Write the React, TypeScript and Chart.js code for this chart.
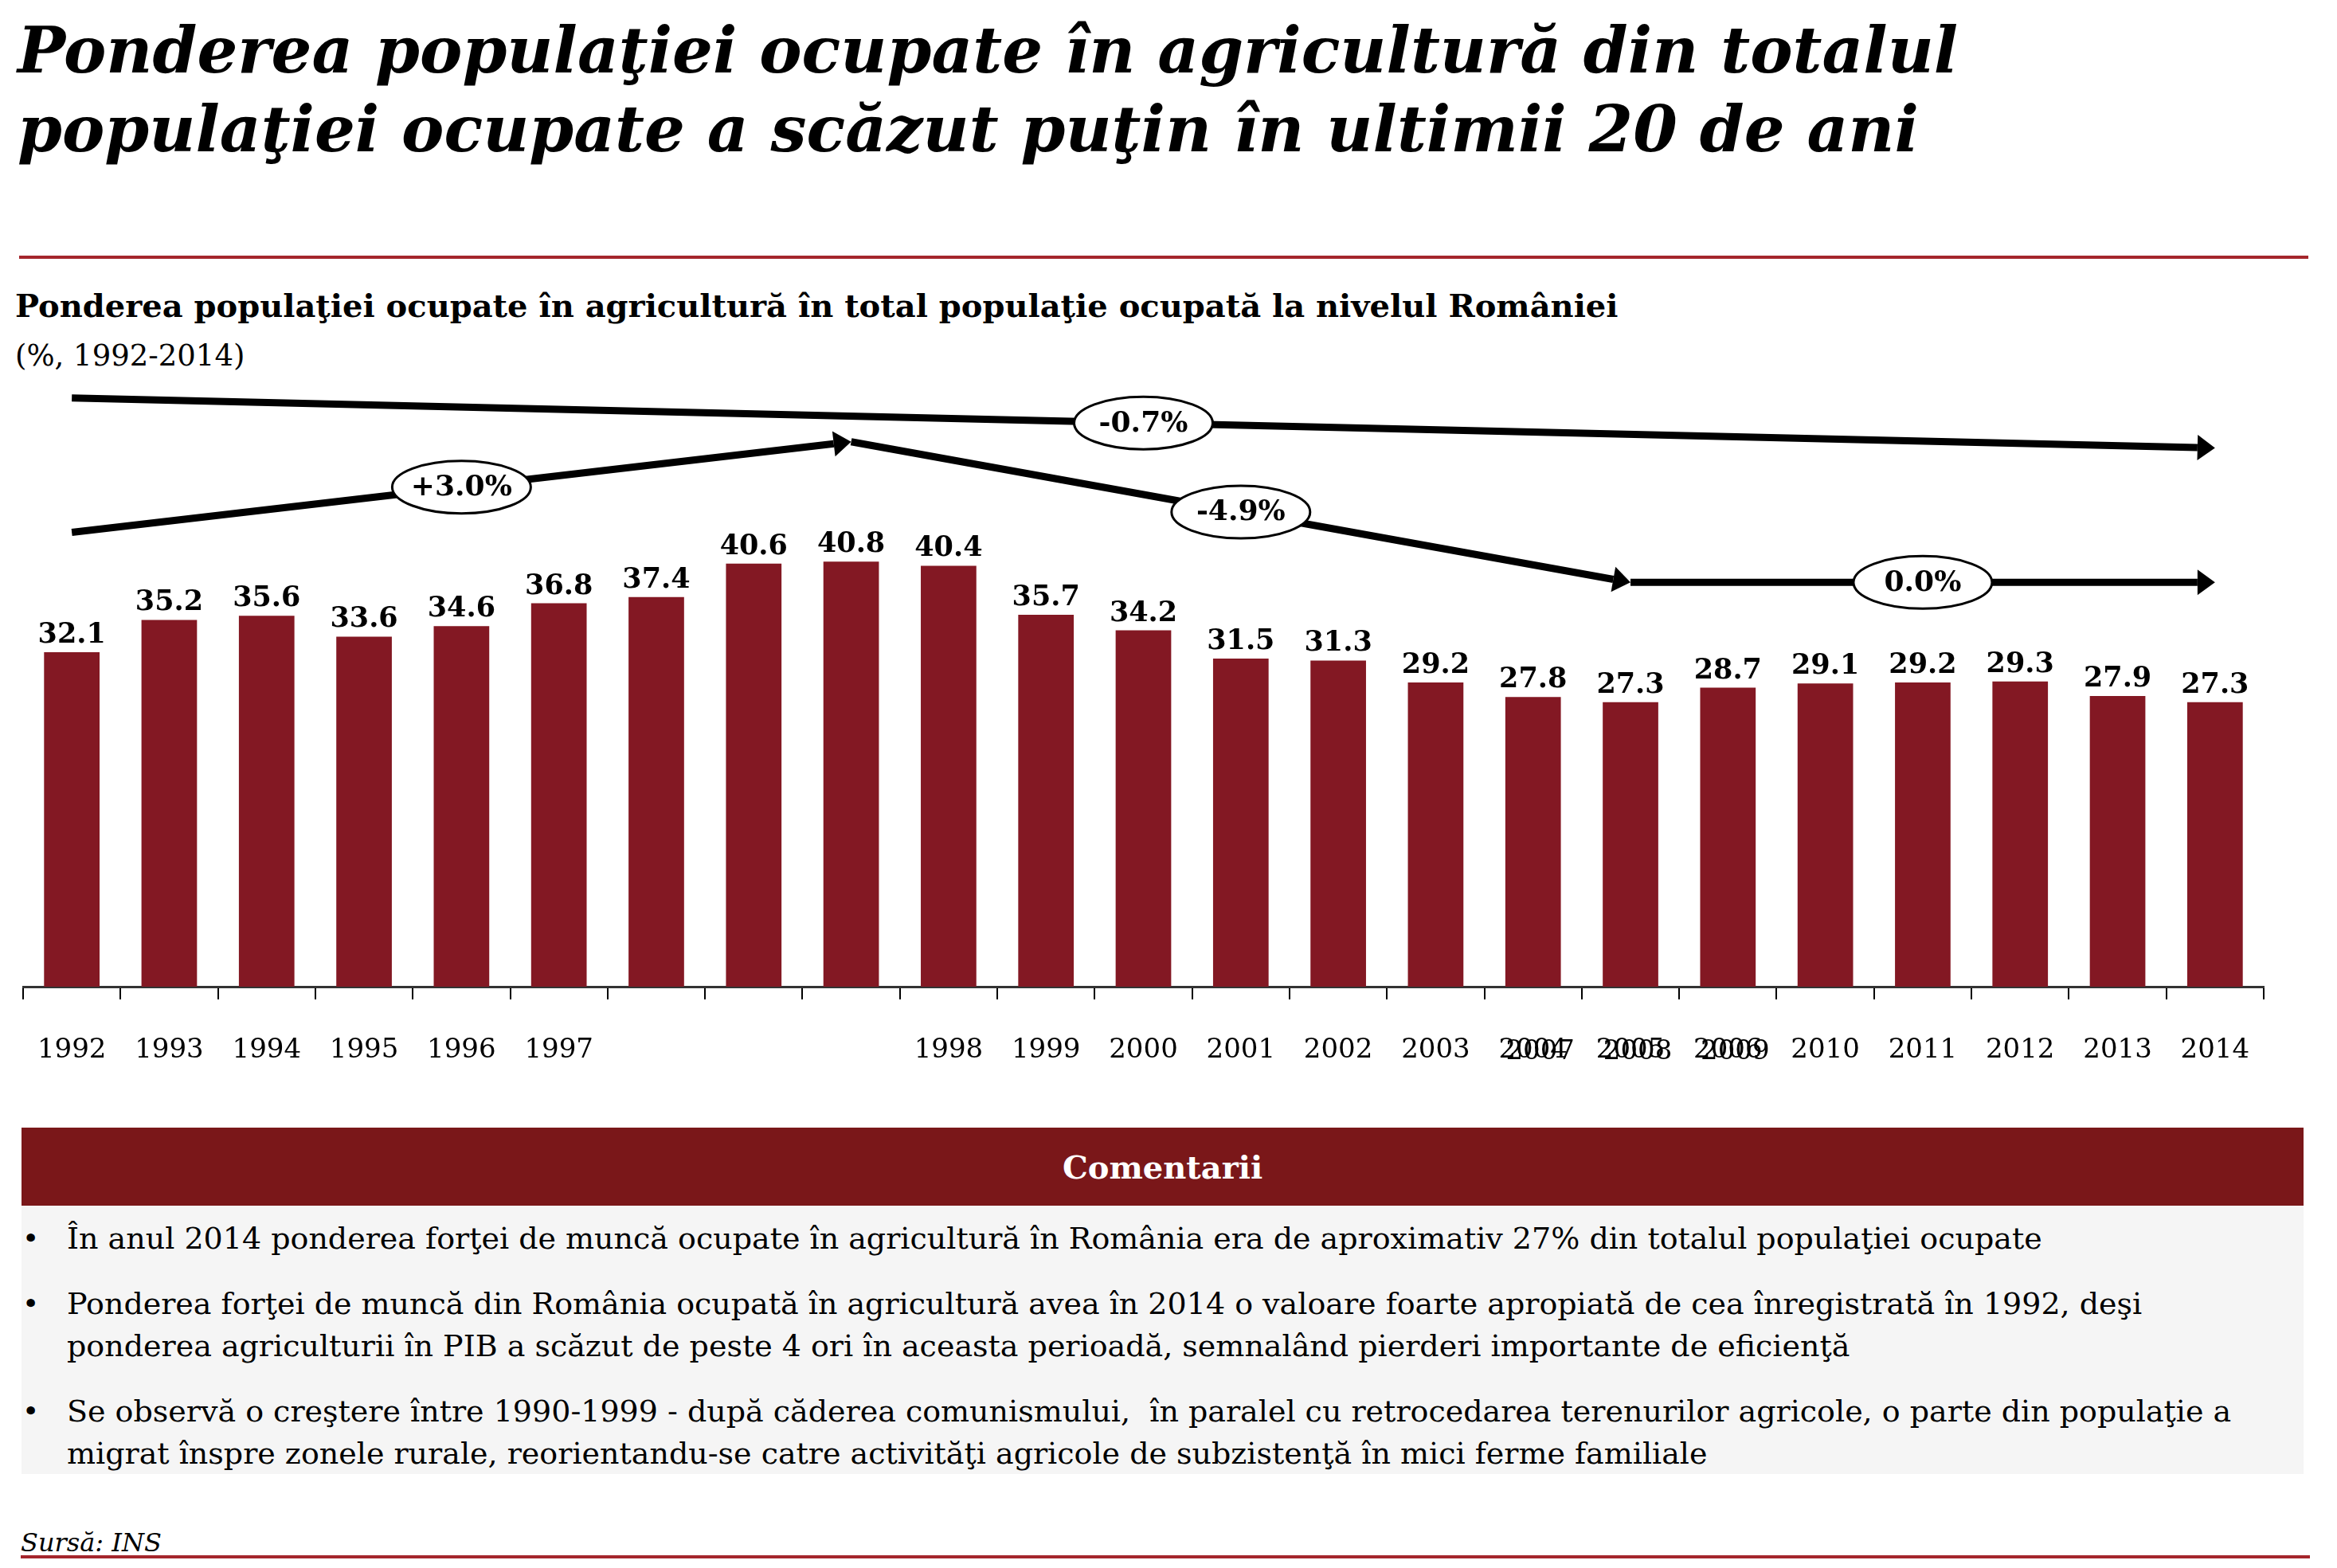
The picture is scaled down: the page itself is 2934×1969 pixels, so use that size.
import React, { useEffect, useRef } from "react";
import { Chart, registerables } from "chart.js";

Chart.register(...registerables);

const categories = ["1992","1993","1994","1995","1996","1997","1998","1999","2000","2001","2002","2003","2004","2005","2006","2007","2008","2009","2010","2011","2012","2013","2014"];
const values = [32.1,35.2,35.6,33.6,34.6,36.8,37.4,40.6,40.8,40.4,35.7,34.2,31.5,31.3,29.2,27.8,27.3,28.7,29.1,29.2,29.3,27.9,27.3];
// axis labels as they appear in the source slide (misaligned there)
const tickLabels = ["1992","1993","1994","1995","1996","1997","","","","1998","1999","2000","2001","2002","2003","2004","2005","2006","2010","2011","2012","2013","2014"];
const overlapLabels = ["","","","","","","","","","","","","","","","2007","2008","2009","","","","",""];

// trend arrows: from category index, to category index, label
const arrowFrom = [0, 0, 8, 16];
const arrowTo = [22, 8, 16, 22];
const arrowLift = [24.4, 11.5, 11.5, 11.5];
const arrowLabels = ["-0.7%", "+3.0%", "-4.9%", "0.0%"];

const title1 = "Ponderea populaţiei ocupate în agricultură din totalul";
const title2 = "populaţiei ocupate a scăzut puţin în ultimii 20 de ani";
const subtitle = "Ponderea populaţiei ocupate în agricultură în total populaţie ocupată la nivelul României";
const subtitle2 = "(%, 1992-2014)";
const comments = [
  ["În anul 2014 ponderea forţei de muncă ocupate în agricultură în România era de aproximativ 27% din totalul populaţiei ocupate"],
  ["Ponderea forţei de muncă din România ocupată în agricultură avea în 2014 o valoare foarte apropiată de cea înregistrată în 1992, deşi", "ponderea agriculturii în PIB a scăzut de peste 4 ori în aceasta perioadă, semnalând pierderi importante de eficienţă"],
  ["Se observă o creştere între 1990-1999 - după căderea comunismului,  în paralel cu retrocedarea terenurilor agricole, o parte din populaţie a", "migrat înspre zonele rurale, reorientandu-se catre activităţi agricole de subzistenţă în mici ferme familiale"],
];

const SERIF = "'DejaVu Serif', serif";
const BAR = "#831823";

const overlayPlugin = {
  id: "overlay",
  afterDraw(chart: any) {
    const ctx = chart.ctx;
    const x = chart.scales.x;
    const y = chart.scales.y;
    const meta = chart.getDatasetMeta(0);
    ctx.save();
    // value labels
    ctx.fillStyle = "#000";
    ctx.font = `bold 35px ${SERIF}`;
    ctx.textAlign = "center";
    ctx.textBaseline = "alphabetic";
    meta.data.forEach((bar: any, i: number) => {
      ctx.fillText(values[i].toFixed(1), bar.x, bar.y - 12);
    });
    // overlapping axis labels (as in the source slide)
    ctx.font = `34px ${SERIF}`;
    ctx.textBaseline = "middle";
    overlapLabels.forEach((t, i) => {
      if (!t) return;
      ctx.fillText(t, x.getPixelForValue(i) + 9, x.top + 82);
    });
    // arrows
    arrowFrom.forEach((f, k) => {
      const t = arrowTo[k];
      const x1 = x.getPixelForValue(f);
      const x2 = x.getPixelForValue(t);
      const y1 = y.getPixelForValue(values[f] + arrowLift[k]);
      const y2 = y.getPixelForValue(values[t] + arrowLift[k]);
      const ang = Math.atan2(y2 - y1, x2 - x1);
      const headLen = 22;
      const headW = 16;
      const bx = x2 - headLen * Math.cos(ang);
      const by = y2 - headLen * Math.sin(ang);
      ctx.strokeStyle = "#000";
      ctx.lineWidth = 9;
      ctx.lineCap = "butt";
      ctx.beginPath();
      ctx.moveTo(x1, y1);
      ctx.lineTo(bx, by);
      ctx.stroke();
      ctx.fillStyle = "#000";
      ctx.beginPath();
      ctx.moveTo(x2, y2);
      ctx.lineTo(bx + headW * Math.sin(ang), by - headW * Math.cos(ang));
      ctx.lineTo(bx - headW * Math.sin(ang), by + headW * Math.cos(ang));
      ctx.closePath();
      ctx.fill();
      // label ellipse at midpoint
      const mx = (x1 + x2) / 2;
      const my = (y1 + y2) / 2;
      ctx.beginPath();
      ctx.ellipse(mx, my, 87, 33, 0, 0, Math.PI * 2);
      ctx.fillStyle = "#fff";
      ctx.fill();
      ctx.lineWidth = 3;
      ctx.strokeStyle = "#000";
      ctx.stroke();
      ctx.fillStyle = "#000";
      ctx.font = `bold 36px ${SERIF}`;
      ctx.textAlign = "center";
      ctx.textBaseline = "middle";
      ctx.fillText(arrowLabels[k], mx, my + 1);
    });
    ctx.restore();
  },
};

function BarChart() {
  const ref = useRef<HTMLCanvasElement | null>(null);
  useEffect(() => {
    if (!ref.current) return;
    const chart = new Chart(ref.current, {
      type: "bar",
      data: {
        labels: categories,
        datasets: [
          {
            data: values,
            backgroundColor: BAR,
            barPercentage: 0.57,
            categoryPercentage: 1,
          },
        ],
      },
      options: {
        responsive: false,
        animation: false,
        devicePixelRatio: 1,
        layout: { padding: { left: 29, right: 92, top: 0, bottom: 0 } },
        plugins: { legend: { display: false }, tooltip: { enabled: false } },
        scales: {
          x: {
            grid: { display: true, drawOnChartArea: false, drawTicks: true, tickLength: 16, color: "#000", lineWidth: 2, offset: true },
            border: { display: true, color: "#333", width: 3 },
            ticks: {
              autoSkip: false,
              maxRotation: 0,
              padding: 44,
              color: "#000",
              font: { family: "DejaVu Serif", size: 34 },
              callback: (_v: any, i: number) => tickLabels[i],
            },
            afterFit: (s: any) => { s.height = 161; },
          },
          y: { display: false, min: 0, max: 60 },
        },
      },
      plugins: [overlayPlugin],
    });
    return () => chart.destroy();
  }, []);
  return <canvas ref={ref} width={2934} height={946} style={{ position: "absolute", left: 0, top: 454, width: 2934, height: 946 }} />;
}

export default function App() {
  const abs = (s: any) => ({ position: "absolute" as const, whiteSpace: "pre" as const, ...s });
  return (
    <div style={{ position: "absolute", left: 0, top: 0, width: 2934, height: 1969, background: "#fff", overflow: "hidden", fontFamily: SERIF, color: "#000" }}>
      <div style={abs({ left: 22, top: 23, fontSize: 80, lineHeight: "80px", fontWeight: "bold", fontStyle: "italic" })}>{title1}</div>
      <div style={abs({ left: 22, top: 122, fontSize: 80, lineHeight: "80px", fontWeight: "bold", fontStyle: "italic" })}>{title2}</div>
      <div style={abs({ left: 24, top: 321, width: 2874, height: 4, background: "#a4262c" })} />
      <div style={abs({ left: 19, top: 364, fontSize: 40, lineHeight: "40px", fontWeight: "bold" })}>{subtitle}</div>
      <div style={abs({ left: 19, top: 428, fontSize: 37, lineHeight: "37px" })}>{subtitle2}</div>
      <BarChart />
      <div style={abs({ left: 27, top: 1416, width: 2865, height: 98, background: "#7a1719", color: "#fff", fontWeight: "bold", fontSize: 40, display: "flex", alignItems: "center", justifyContent: "center" })}>Comentarii</div>
      <div style={abs({ left: 27, top: 1514, width: 2865, height: 337, background: "#f5f5f5" })} />
      {comments.map((lines, p) => {
        const tops = [1555, 1637, 1772];
        return (
          <div key={p}>
            <div style={abs({ left: 28, top: tops[p] - 26, fontSize: 36, lineHeight: "52px" })}>•</div>
            {lines.map((ln, j) => (
              <div key={j} style={abs({ left: 84, top: tops[p] - 26 + j * 53, fontSize: 38, lineHeight: "52px" })}>{ln}</div>
            ))}
          </div>
        );
      })}
      <div style={abs({ left: 26, top: 1921, fontSize: 32, lineHeight: "32px", fontStyle: "italic" })}>Sursă: INS</div>
      <div style={abs({ left: 26, top: 1953, width: 2874, height: 4, background: "#a4262c" })} />
    </div>
  );
}
